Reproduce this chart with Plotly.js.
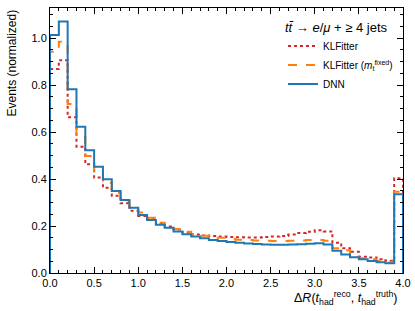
<!DOCTYPE html>
<html>
<head>
<meta charset="utf-8">
<script src="https://cdn.plot.ly/plotly-3.0.1.min.js"></script>
<style>html,body{margin:0;padding:0;background:#fff;}#chart{width:415px;height:311px;}</style>
</head>
<body>
<div id="chart"></div>
<script>
// Bin edges (ΔR)
const binEdges = [0.0,0.1,0.2,0.3,0.4,0.5,0.6,0.7,0.8,0.9,1.0,1.1,1.2,1.3,1.4,1.5,1.6,1.7,1.8,1.9,2.0,
                  2.1,2.2,2.3,2.4,2.5,2.6,2.7,2.8,2.9,3.0,3.1,3.2,3.3,3.4,3.5,3.6,3.7,3.8,3.9,4.0];
const klfitter = [0.868,0.906,0.663,0.537,0.463,0.406,0.363,0.329,0.297,0.265,
                  0.243,0.229,0.210,0.198,0.185,0.172,0.164,0.160,0.157,0.155,
                  0.153,0.152,0.151,0.151,0.153,0.155,0.158,0.164,0.170,0.176,
                  0.182,0.177,0.129,0.105,0.090,0.069,0.066,0.059,0.052,0.403];
const klfitterFixed = [0.942,0.984,0.719,0.580,0.498,0.435,0.384,0.342,0.306,0.282,
                  0.257,0.235,0.214,0.201,0.187,0.176,0.166,0.159,0.155,0.150,
                  0.145,0.142,0.140,0.138,0.137,0.136,0.136,0.137,0.138,0.140,
                  0.141,0.137,0.105,0.097,0.078,0.063,0.058,0.052,0.048,0.346];
const dnn = [1.013,1.071,0.782,0.623,0.523,0.452,0.399,0.349,0.311,0.278,
                  0.247,0.226,0.205,0.193,0.177,0.165,0.155,0.148,0.141,0.136,
                  0.132,0.129,0.126,0.123,0.121,0.120,0.120,0.121,0.122,0.125,
                  0.127,0.121,0.095,0.079,0.067,0.058,0.051,0.046,0.041,0.335];
const seriesNames = ["KLFitter", "KLFitter (<i>m</i><sub>t</sub><sup>fixed</sup>)", "DNN"];

function stepXY(vals){
  const x=[binEdges[0]], y=[0];
  for(let i=0;i<vals.length;i++){ x.push(binEdges[i]); y.push(vals[i]); }
  x.push(binEdges[binEdges.length-1]); y.push(vals[vals.length-1]);
  x.push(binEdges[binEdges.length-1]); y.push(0);
  return {x,y};
}
const styles = [
  {color:'#d62728', dash:'dot'},
  {color:'#ff7f0e', dash:'dash'},
  {color:'#1f77b4', dash:'solid'}
];
const traces = [klfitter, klfitterFixed, dnn].map((v,i)=>{
  const s = stepXY(v);
  return {x:s.x, y:s.y, type:'scatter', mode:'lines', name:seriesNames[i],
          line:{shape:'hv', color:styles[i].color, dash:styles[i].dash, width:2}};
});

const font = {family:'"Liberation Sans", Arial, sans-serif', size:11, color:'#000'};
const axisCommon = {showline:true, linecolor:'#000', linewidth:1, mirror:'ticks', ticks:'inside',
  ticklen:6, tickwidth:1, tickcolor:'#000', showgrid:false, zeroline:false, tickfont:{size:11}};
const layout = {
  width:415, height:311,
  margin:{l:50, r:12, t:8, b:38},
  paper_bgcolor:'#fff', plot_bgcolor:'#fff',
  font: font,
  showlegend:true,
  xaxis: Object.assign({}, axisCommon, {range:[0,4.0], dtick:0.5, tick0:0, tickformat:'.1f',
    minor:{ticks:'inside', dtick:0.1, ticklen:3, tickcolor:'#000', showgrid:false}}),
  yaxis: Object.assign({}, axisCommon, {range:[0,1.128], dtick:0.2, tick0:0, tickformat:'.1f',
    minor:{ticks:'inside', dtick:0.05, ticklen:3, tickcolor:'#000', showgrid:false}}),
  legend:{x:0.66, xanchor:'left', y:0.975, yanchor:'top', bgcolor:'rgba(0,0,0,0)',
    font:{size:10}, tracegroupgap:0, itemwidth:30,
    title:{text:'<i>t</i><i>t̄</i> → <i>e</i>/<i>μ</i> + ≥ 4 jets', font:{size:13}}},
  annotations:[
    {text:'Δ<i>R</i>(<i>t</i><sub>had</sub><sup>reco</sup>, <i>t</i><sub>had</sub><sup>truth</sup>)',
     xref:'paper', yref:'paper', x:0.99, y:0, xanchor:'right', yanchor:'top', yshift:-14,
     showarrow:false, font:{size:12.5}},
    {text:'Events (normalized)', xref:'paper', yref:'paper', x:0, y:1, xanchor:'right', yanchor:'top',
     xshift:-30, textangle:-90, showarrow:false, font:{size:12}}
  ]
};
Plotly.newPlot('chart', traces, layout, {displayModeBar:false, staticPlot:true});
</script>
</body>
</html>
